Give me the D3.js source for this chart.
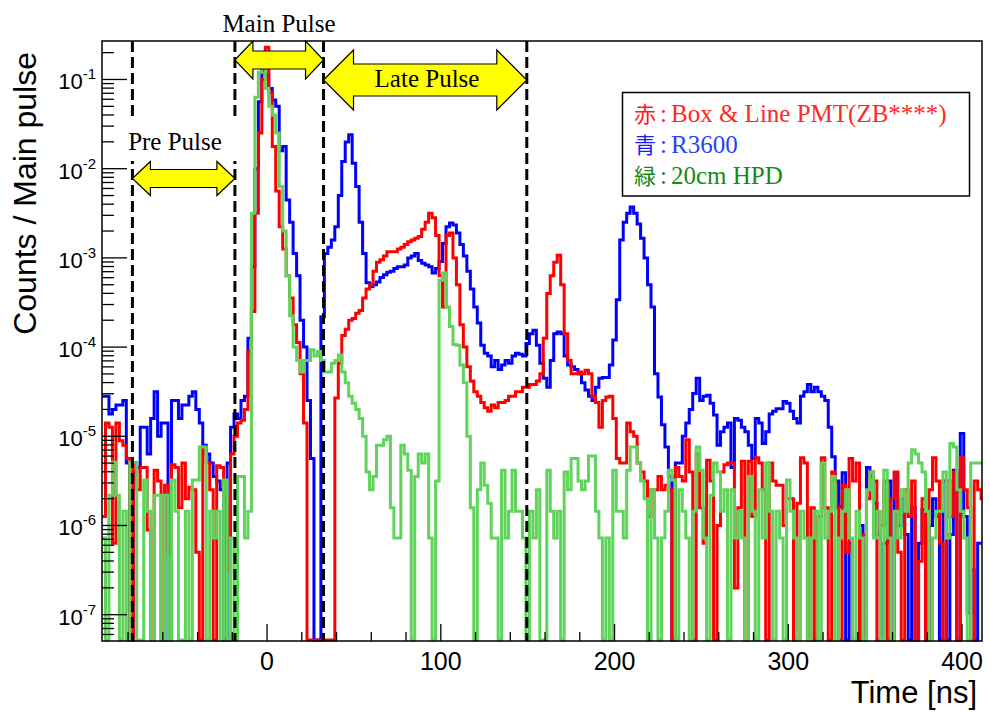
<!DOCTYPE html>
<html>
<head>
<meta charset="utf-8">
<script src="https://cdn.jsdelivr.net/npm/d3@7"></script>
<style>
  body { margin: 0; background: #fff; }
  svg { display: block; }
</style>
</head>
<body>
<svg id="chart" width="990" height="712"></svg>
<script>
// Histogram binning (ns)
const binStart = -95;
const binWidth = 2;

// log10(counts / main pulse) per 2 ns bin; null = empty bin
const blueLog10 = [
  -4.55,-4.55,-4.75,-4.7,-4.65,-4.65,-4.6,-5.3,null,-5.4,
  -5.35,-4.9,-4.9,-5.2,-4.8,-4.5,-5.0,-4.85,-4.85,null,
  -4.6,-4.6,-4.8,-4.65,-4.65,-4.55,-4.5,-4.7,-4.85,-5.1,
  -5.2,-5.3,-5.45,-5.5,-5.6,null,-5.3,-4.9,-4.75,-4.8,
  -4.6,-4.55,-3.9,-3.1,-2.0,-1.25,-0.9,-0.95,-1.1,-1.23,
  -1.3,-1.8,-1.75,-2.35,-2.6,-2.95,-3.2,-3.7,-4.0,-4.6,
  -5.25,null,null,-3.66,-2.95,-2.88,-2.8,-2.65,-2.3,-1.92,
  -1.7,-1.62,-1.94,-2.2,-2.6,-2.95,-3.28,-3.32,-3.3,-3.27,
  -3.22,-3.19,-3.16,-3.15,-3.12,-3.1,-3.1,-3.08,-3.0,-2.98,
  -2.95,-3.03,-3.06,-3.08,-3.1,-3.17,-3.12,-3.04,-2.84,-2.65,
  -2.61,-2.63,-2.72,-2.85,-2.98,-3.15,-3.35,-3.55,-3.73,-3.98,
  -4.07,-4.1,-4.22,-4.15,-4.25,-4.2,-4.15,-4.18,-4.1,-4.07,
  -4.08,-4.1,-3.96,-3.85,-3.81,-3.98,-4.18,-4.35,-4.45,-4.15,
  -3.85,-3.83,-3.85,-4.1,-4.2,-4.22,-4.25,-4.3,-4.4,-4.48,
  -4.55,-4.6,-4.45,-4.35,-4.34,-4.34,-4.2,-3.92,-3.47,-2.8,
  -2.6,-2.5,-2.43,-2.5,-2.62,-2.78,-3.0,-3.3,-3.55,-4.3,
  -4.56,-4.87,-5.12,-5.45,null,-5.3,-5.3,-5.0,-4.85,-4.7,
  -4.52,-4.35,-4.6,-4.55,-4.54,-4.63,-4.76,-5.1,-4.95,-4.9,
  -4.85,-5.35,-4.8,-4.82,-4.9,-4.95,-5.1,-5.25,-4.8,-4.85,
  -5.08,-4.95,-4.75,-4.72,-4.69,-4.69,-4.61,-4.63,-4.72,-4.8,
  -4.85,-4.55,-4.5,-4.42,-4.5,-4.45,-4.5,-4.55,-4.6,-4.9,
  -5.23,-5.5,-5.79,-5.41,null,-6.2,null,null,-6.0,null,
  -5.35,-5.45,-5.75,-6.1,null,-6.2,-5.5,null,-5.41,-6.0,
  -5.7,-6.1,null,-5.8,null,-6.2,-5.82,null,-6.0,-5.7,
  -5.9,null,-5.5,null,-6.1,-5.38,null,-4.97,-5.9,-6.98,
  -6.5,null,-6.2,-6.2
];

const redLog10 = [
  -5.9,-4.85,-4.9,-6.2,-4.85,-5.05,-5.1,-5.25,null,-5.3,
  -5.6,-5.35,-5.35,-6.05,null,-5.38,-5.5,null,-5.55,-6.3,
  -5.32,-5.35,-5.8,-5.3,-5.7,-5.57,-5.6,-6.3,null,-5.12,
  -5.3,-5.6,null,-5.33,-5.35,-5.7,-6.5,-5.2,-5.0,-4.85,
  -4.82,-4.7,-4.05,-3.6,-2.5,-1.6,-1.0,-0.64,-1.15,-1.75,
  -2.25,-2.65,-2.9,-3.2,-3.45,-3.75,-3.95,-4.3,-4.85,null,
  null,null,null,null,null,null,null,-4.57,-4.18,-3.87,
  -3.8,-3.7,-3.68,-3.62,-3.59,-3.45,-3.35,-3.3,-3.15,-3.05,
  -3.02,-2.98,-2.93,-2.93,-2.93,-2.9,-2.88,-2.85,-2.82,-2.8,
  -2.78,-2.76,-2.68,-2.6,-2.5,-2.55,-2.75,-3.2,-3.55,-2.75,
  -2.72,-3.0,-3.3,-3.75,-4.0,-4.22,-4.38,-4.5,-4.55,-4.62,
  -4.68,-4.72,-4.65,-4.68,-4.62,-4.62,-4.6,-4.55,-4.55,-4.5,
  -4.5,-4.45,-4.45,-4.42,-4.42,-4.38,-4.3,-3.9,-3.4,-3.2,
  -3.05,-2.97,-3.3,-3.85,-4.15,-4.3,-4.3,-4.28,-4.3,-4.26,
  -4.3,-4.55,-4.62,-4.9,-4.6,-4.56,-4.55,-4.8,-5.25,-5.3,
  -5.3,-4.85,-4.95,-5.0,-5.3,-5.4,-5.5,-5.9,-5.6,-5.6,
  -5.45,-5.6,-5.55,-5.6,null,-5.35,-5.45,-5.5,-5.04,-5.4,
  null,-5.2,-5.8,-6.2,-5.27,-5.5,null,-6.0,-5.4,-5.32,
  -5.3,-5.3,-6.7,-5.8,-5.28,null,-5.28,-5.9,-5.24,-5.3,
  -5.6,null,-5.3,-5.5,-5.55,-5.55,-6.0,-5.7,-5.7,null,
  -5.75,-5.24,-5.3,null,-5.8,null,-5.9,-5.24,-5.8,null,
  -5.4,-5.8,null,-5.55,-6.3,-5.25,-5.5,-5.3,null,-6.1,
  -5.7,-5.4,-5.5,null,-6.0,-5.5,null,-5.7,-5.4,-6.3,
  null,-5.6,-5.9,-5.5,null,-6.4,-5.7,null,-5.6,-5.24,
  -5.5,-6.2,null,-5.5,-5.9,-5.4,null,-5.24,-5.6,-5.8,
  null,-5.5,-5.6,-5.7
];

const greenLog10 = [
  -6.14,null,-5.66,-5.29,-5.66,null,-5.84,null,-5.29,-5.29,
  null,null,-5.49,-5.84,null,-5.66,-5.66,null,-5.66,null,
  -5.49,-5.84,null,null,-5.84,null,-5.49,-5.49,-5.12,-5.12,
  null,-5.84,-6.14,-5.84,null,-5.49,null,-6.14,null,-5.45,
  -5.45,-6.14,-5.84,-2.5,-1.2,-0.92,-0.84,-1.1,-1.3,-1.4,
  -1.6,-2.2,-2.7,-3.2,-3.65,-4.0,-4.15,-4.28,-4.15,-4.15,
  -4.03,-4.1,-4.05,-4.15,-4.28,-4.28,-4.18,-4.15,-4.09,-4.28,
  -4.4,-4.55,-4.63,-4.7,-4.8,-5.0,-5.4,-5.6,-5.45,-5.1,
  -5.1,-5.04,-5.0,-5.8,-6.14,-6.14,-5.1,-5.2,-5.38,null,
  -5.45,-5.2,-5.3,-5.2,-6.14,null,-5.5,-3.25,-3.17,-3.55,
  -3.77,-3.97,-3.98,-4.2,-4.4,-5.0,-5.8,null,-5.6,-5.3,
  -5.55,-5.75,-6.14,-6.14,null,-5.38,-6.14,-5.84,-5.38,-5.84,
  -5.84,-6.14,null,-5.84,-6.14,-5.6,null,null,-5.38,-5.84,
  -6.14,-5.84,null,-5.4,-5.6,-5.25,-5.25,-5.5,-5.6,-5.5,
  -5.22,-5.22,-5.84,-6.14,null,-6.14,null,-5.38,-5.84,-5.84,
  -6.14,-5.38,-5.12,-5.12,-5.3,-5.5,-5.7,null,-5.6,-6.14,
  null,-6.14,-5.84,-5.38,-5.49,null,-5.6,-5.84,-6.14,null,
  -5.84,-5.12,-5.38,-6.14,null,-5.66,-5.3,-5.4,-5.84,-5.6,
  null,-5.6,-6.14,-5.84,-6.14,null,-5.45,-5.84,null,-5.6,
  -6.14,-5.3,-5.84,null,-5.84,-6.14,null,-5.49,-5.84,-6.14,
  null,-5.84,-6.14,null,-6.14,-5.84,null,-5.3,-6.14,-5.84,
  -5.45,null,-6.14,-5.84,-5.6,-6.14,null,-5.84,-6.14,null,
  -5.6,-5.4,-6.14,-5.84,null,-5.38,-6.14,null,-5.84,-6.14,
  -5.6,-5.84,-5.3,-5.15,-5.2,-5.3,-5.4,-5.84,null,-6.14,
  -5.84,-5.84,-5.4,-6.14,-5.08,-5.12,-5.6,-5.84,-6.14,null,
  -5.3,-5.3,-5.3,-5.3
];

// Axis ticks
const xTickValues = [0, 100, 200, 300, 400];
const yDecades = [-7, -6, -5, -4, -3, -2, -1];

// Time windows (ns): pre / main / late
const windowEdges = [-77.5, -18.5, 32.5, 149.5];
const windowNames = ["Pre Pulse", "Main Pulse", "Late Pulse"];

// Legend rows
const legendMarks = ["赤", "青", "緑"];
const legendNames = ["Box & Line PMT(ZB****)", "R3600", "20cm HPD"];

// ---------------------------------------------------------------
const svg = d3.select("#chart");
const frame = { left: 102, top: 41, right: 982, bottom: 641 };

const x = d3.scaleLinear().domain([-95, 411.5]).range([frame.left, frame.right]);
const y = d3.scaleLog().domain([5.07e-8, 0.27]).range([frame.bottom, frame.top]);

svg.append("defs").append("clipPath").attr("id", "plotClip")
  .append("rect")
  .attr("x", frame.left).attr("y", frame.top)
  .attr("width", frame.right - frame.left)
  .attr("height", frame.bottom - frame.top + 1);

// Histogram outlines
function stepPath(logs) {
  const floorY = frame.bottom - 1;
  const pts = logs.map((v, i) => [x(binStart + i * binWidth), v == null ? floorY : y(Math.pow(10, v))]);
  pts.push([x(binStart + logs.length * binWidth), pts[pts.length - 1][1]]);
  return d3.line().curve(d3.curveStepAfter)(pts);
}

const series = [
  { data: blueLog10, color: "#0000ff" },
  { data: redLog10, color: "#ff0000" },
  { data: greenLog10, color: "#5fd35a" }
];

const histG = svg.append("g").attr("clip-path", "url(#plotClip)");
series.forEach(s => {
  histG.append("path")
    .attr("d", stepPath(s.data))
    .attr("fill", "none")
    .attr("stroke", s.color)
    .attr("stroke-width", 3)
    .attr("stroke-linejoin", "miter")
    .attr("stroke-linecap", "butt");
});

// Frame
svg.append("rect")
  .attr("x", frame.left).attr("y", frame.top)
  .attr("width", frame.right - frame.left)
  .attr("height", frame.bottom - frame.top)
  .attr("fill", "none").attr("stroke", "#000").attr("stroke-width", 1.5);

// Y axis ticks (log): major at decades, minor at 2..9
const yTickG = svg.append("g").attr("stroke", "#000").attr("stroke-width", 1.3);
const [yLo, yHi] = y.domain();
for (let d = -8; d <= 0; d++) {
  for (let k = 1; k <= 9; k++) {
    const v = k * Math.pow(10, d);
    if (v < yLo || v > yHi) continue;
    const len = k === 1 ? 25 : 12;
    yTickG.append("line")
      .attr("x1", frame.left).attr("x2", frame.left + len)
      .attr("y1", y(v)).attr("y2", y(v));
  }
}
const yLabelG = svg.append("g")
  .attr("font-family", "'Liberation Sans', Arial, Helvetica, sans-serif")
  .attr("fill", "#000");
yDecades.forEach(d => {
  const t = yLabelG.append("text")
    .attr("x", 96).attr("y", y(Math.pow(10, d)) + 10)
    .attr("text-anchor", "end")
    .attr("font-size", 22);
  t.append("tspan").text("10");
  t.append("tspan").attr("font-size", 15).attr("dy", -10).text("-" + (-d));
});

// X axis ticks: major every 100, minor every 20
const xTickG = svg.append("g").attr("stroke", "#000").attr("stroke-width", 1.3);
d3.range(-80, 411, 20).forEach(v => {
  const major = v % 100 === 0;
  xTickG.append("line")
    .attr("x1", x(v)).attr("x2", x(v))
    .attr("y1", frame.bottom).attr("y2", frame.bottom - (major ? 17 : 9));
});
svg.append("g")
  .attr("font-family", "'Liberation Sans', Arial, Helvetica, sans-serif")
  .attr("font-size", 25).attr("text-anchor", "middle")
  .selectAll("text").data(xTickValues).join("text")
  .attr("x", d => x(d)).attr("y", 670)
  .text(d => d);

// Axis titles
svg.append("text")
  .attr("transform", "translate(36,52) rotate(-90)")
  .attr("text-anchor", "end")
  .attr("font-family", "'Liberation Sans', Arial, Helvetica, sans-serif")
  .attr("font-size", 32)
  .text("Counts / Main pulse");
svg.append("text")
  .attr("x", 977).attr("y", 703)
  .attr("text-anchor", "end")
  .attr("font-family", "'Liberation Sans', Arial, Helvetica, sans-serif")
  .attr("font-size", 31)
  .text("Time [ns]");

// Window boundaries
const dashG = svg.append("g");
windowEdges.forEach(t => {
  dashG.append("line")
    .attr("x1", x(t)).attr("x2", x(t))
    .attr("y1", frame.top).attr("y2", frame.bottom)
    .attr("stroke", "#000").attr("stroke-width", 3)
    .attr("stroke-dasharray", "11,5");
});

// Label patch for the pre-pulse caption
svg.append("rect")
  .attr("x", 124).attr("y", 118).attr("width", 118).attr("height", 43)
  .attr("fill", "#fff");

// Double-headed arrows between window edges
function doubleArrow(x1, x2, cy, headLen, headHalf, shaftHalf) {
  return [
    [x1, cy], [x1 + headLen, cy - headHalf], [x1 + headLen, cy - shaftHalf],
    [x2 - headLen, cy - shaftHalf], [x2 - headLen, cy - headHalf], [x2, cy],
    [x2 - headLen, cy + headHalf], [x2 - headLen, cy + shaftHalf],
    [x1 + headLen, cy + shaftHalf], [x1 + headLen, cy + headHalf]
  ].map(p => p.join(",")).join(" ");
}
const arrowSpecs = [
  { cy: 178.5, headLen: 18, headHalf: 17, shaftHalf: 9 },
  { cy: 60, headLen: 18, headHalf: 19, shaftHalf: 9 },
  { cy: 80, headLen: 30, headHalf: 30, shaftHalf: 16 }
];
arrowSpecs.forEach((a, i) => {
  svg.append("polygon")
    .attr("points", doubleArrow(x(windowEdges[i]), x(windowEdges[i + 1]), a.cy, a.headLen, a.headHalf, a.shaftHalf))
    .attr("fill", "#ffff00").attr("stroke", "#000").attr("stroke-width", 1.2)
    .attr("stroke-linejoin", "miter");
});

// Window captions
const captionPos = [
  { x: 175, y: 150 },
  { x: 279, y: 32 },
  { x: 427, y: 87 }
];
svg.append("g")
  .attr("font-family", "'Liberation Serif', 'Times New Roman', serif")
  .attr("font-size", 25).attr("text-anchor", "middle").attr("fill", "#000")
  .selectAll("text").data(windowNames).join("text")
  .attr("x", (d, i) => captionPos[i].x)
  .attr("y", (d, i) => captionPos[i].y)
  .text(d => d);

// Legend
svg.append("rect")
  .attr("x", 622.5).attr("y", 92.5).attr("width", 347).attr("height", 103.5)
  .attr("fill", "#fff").attr("stroke", "#000").attr("stroke-width", 1.5);
const markColors = ["#ff1a1a", "#1a1aff", "#168a16"];
const nameColors = ["#ff2a1f", "#1f45ff", "#168a16"];
legendMarks.forEach((m, i) => {
  const by = 122 + i * 31;
  svg.append("text")
    .attr("x", 634).attr("y", by)
    .attr("font-family", "'Noto Sans CJK JP', 'Noto Sans CJK SC', sans-serif")
    .attr("font-size", 22).attr("fill", markColors[i])
    .text(m);
  svg.append("text")
    .attr("x", 660).attr("y", by)
    .attr("font-family", "'Liberation Serif', 'Times New Roman', serif")
    .attr("font-size", 25).attr("fill", nameColors[i])
    .text(":");
  svg.append("text")
    .attr("x", 671).attr("y", by)
    .attr("font-family", "'Liberation Serif', 'Times New Roman', serif")
    .attr("font-size", 25).attr("fill", nameColors[i])
    .text(legendNames[i]);
});
</script>
</body>
</html>
